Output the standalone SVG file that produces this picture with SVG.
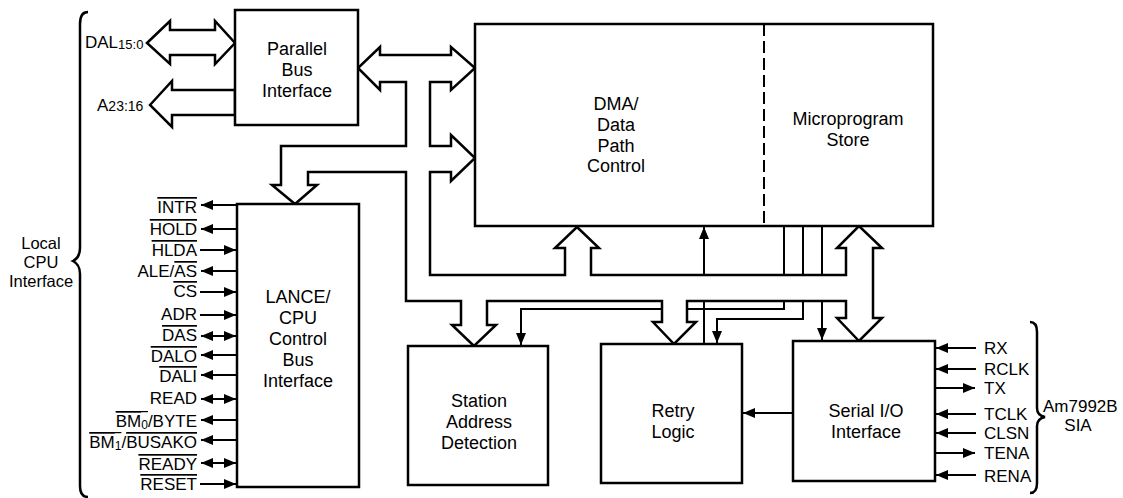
<svg xmlns="http://www.w3.org/2000/svg" width="1123" height="498" viewBox="0 0 1123 498">
<style>
.box{fill:#fff;stroke:#000;stroke-width:2.5}
.bus{fill:#fff;stroke:#000;stroke-width:2.5;stroke-linejoin:miter}
.thin{fill:none;stroke:#000;stroke-width:2}
.lbl{font-family:"Liberation Sans",Arial,sans-serif;font-size:18px;fill:#000;text-anchor:middle}
.sig{font-family:"Liberation Sans",Arial,sans-serif;font-size:17px;fill:#000}
.ol{text-decoration:overline}
.olx{stroke:#000;stroke-width:1.25}
.brace{fill:none;stroke:#000;stroke-width:2.5}
</style>
<defs>
<marker id="ah" viewBox="0 0 12 10" refX="12" refY="5" markerWidth="12" markerHeight="10" markerUnits="userSpaceOnUse" orient="auto-start-reverse"><path d="M0,0 L12,5 L0,10 Z" fill="#000"/></marker>
</defs>
<g id="connectors">
  <polygon class="bus" points="147,43 170,21 170,30 215,30 215,21 235,43 215,64 215,55 170,55 170,64"/>
  <polygon class="bus" points="150,105 172,81 172,90 235,90 235,115 172,115 172,127"/>
  <path class="thin" d="M704,344 V227" marker-end="url(#ah)"/>
  <path class="thin" d="M784,226 V309 H521 V345" marker-end="url(#ah)"/>
  <path class="thin" d="M803,226 V319 H717 V343" marker-end="url(#ah)"/>
  <path class="thin" d="M822,226 V340" marker-end="url(#ah)"/>
  <path class="thin" d="M793,413 H743" marker-end="url(#ah)"/>
  <polygon class="bus" points="380,55 380,47 358,68 380,90 380,82 406,82 406,146 281,146 281,185 272,185 295,204 317,185 308,185 308,172 406,172 406,301 461,301 461,325 452,325 474,346 496,325 487,325 487,301 662,301 662,322 653,322 674,344 696,322 687,322 687,301 846,301 846,318 837,318 859,341 882,318 873,318 873,248 882,248 859,226 837,248 846,248 846,275 591,275 591,248 599,248 577,227 555,248 565,248 565,275 430,275 430,172 451,172 451,181 475,158 451,135 451,146 430,146 430,82 451,82 451,90 475,68 451,47 451,55"/>
  <path class="thin" d="M237,205 H201" marker-end="url(#ah)"/>
  <path class="thin" d="M237,229 H201" marker-end="url(#ah)"/>
  <path class="thin" d="M200,250 H236" marker-end="url(#ah)"/>
  <path class="thin" d="M237,271 H201" marker-end="url(#ah)"/>
  <path class="thin" d="M200,292 H236" marker-end="url(#ah)"/>
  <path class="thin" d="M200,315 H236" marker-end="url(#ah)"/>
  <path class="thin" d="M201,336 H236" marker-start="url(#ah)" marker-end="url(#ah)"/>
  <path class="thin" d="M237,355 H201" marker-end="url(#ah)"/>
  <path class="thin" d="M237,375 H201" marker-end="url(#ah)"/>
  <path class="thin" d="M201,399 H236" marker-start="url(#ah)" marker-end="url(#ah)"/>
  <path class="thin" d="M237,420 H201" marker-end="url(#ah)"/>
  <path class="thin" d="M237,440 H201" marker-end="url(#ah)"/>
  <path class="thin" d="M201,463 H236" marker-start="url(#ah)" marker-end="url(#ah)"/>
  <path class="thin" d="M200,484 H236" marker-end="url(#ah)"/>
  <path class="thin" d="M976,348 H936" marker-end="url(#ah)"/>
  <path class="thin" d="M976,369 H936" marker-end="url(#ah)"/>
  <path class="thin" d="M935,388 H975" marker-end="url(#ah)"/>
  <path class="thin" d="M976,414 H936" marker-end="url(#ah)"/>
  <path class="thin" d="M976,433 H936" marker-end="url(#ah)"/>
  <path class="thin" d="M935,453 H975" marker-end="url(#ah)"/>
  <path class="thin" d="M976,475 H936" marker-end="url(#ah)"/>
</g>
<g id="parallel-bus-interface">
  <rect class="box" x="235" y="10" width="123" height="115"/>
  <text class="lbl" x="297" y="55">Parallel</text>
  <text class="lbl" x="297" y="76">Bus</text>
  <text class="lbl" x="297" y="97">Interface</text>
</g>
<g id="dma-microprogram">
  <rect class="box" x="475" y="24" width="458" height="202"/>
  <line x1="764" y1="24" x2="764" y2="226" stroke="#000" stroke-width="2" stroke-dasharray="12,5"/>
  <text class="lbl" x="616" y="110">DMA/</text>
  <text class="lbl" x="616" y="131">Data</text>
  <text class="lbl" x="616" y="152">Path</text>
  <text class="lbl" x="616" y="172">Control</text>
  <text class="lbl" x="848" y="125">Microprogram</text>
  <text class="lbl" x="848" y="146">Store</text>
</g>
<g id="lance-cpu-control">
  <rect class="box" x="237" y="204" width="122" height="283"/>
  <text class="lbl" x="298" y="303">LANCE/</text>
  <text class="lbl" x="298" y="324">CPU</text>
  <text class="lbl" x="298" y="345">Control</text>
  <text class="lbl" x="298" y="366">Bus</text>
  <text class="lbl" x="298" y="387">Interface</text>
</g>
<g id="station-address-detection">
  <rect class="box" x="408" y="346" width="140" height="139"/>
  <text class="lbl" x="479" y="407">Station</text>
  <text class="lbl" x="479" y="428">Address</text>
  <text class="lbl" x="479" y="449">Detection</text>
</g>
<g id="retry-logic">
  <rect class="box" x="601" y="344" width="141" height="139"/>
  <text class="lbl" x="673" y="417">Retry</text>
  <text class="lbl" x="673" y="438">Logic</text>
</g>
<g id="serial-io-interface">
  <rect class="box" x="793" y="341" width="142" height="140"/>
  <text class="lbl" x="866" y="417">Serial I/O</text>
  <text class="lbl" x="866" y="438">Interface</text>
</g>
<g id="local-cpu-interface">
  <path class="brace" d="M88,12 C83,12 80,16 80,24 L80,248 C80,255 77,259 73,261 C77,263 80,267 80,274 L80,486 C80,493 83,497 88,497"/>
  <text class="lbl" x="41" y="249" style="font-size:16.5px">Local</text>
  <text class="lbl" x="41" y="268" style="font-size:16.5px">CPU</text>
  <text class="lbl" x="41" y="287" style="font-size:16.5px">Interface</text>
  <text class="sig" x="85" y="48">DAL<tspan font-size="13" dy="1">15:0</tspan></text>
  <text class="sig" x="97" y="111">A<tspan font-size="14">23:16</tspan></text>
  <text class="sig" x="197" y="213" text-anchor="end"><tspan class="ol">INTR</tspan></text>
  <text class="sig" x="197" y="235" text-anchor="end"><tspan class="ol">HOLD</tspan></text>
  <text class="sig" x="197" y="256" text-anchor="end"><tspan class="ol">HLDA</tspan></text>
  <text class="sig" x="197" y="277" text-anchor="end">ALE/<tspan class="ol">AS</tspan></text>
  <text class="sig" x="197" y="297" text-anchor="end"><tspan class="ol">CS</tspan></text>
  <text class="sig" x="197" y="320" text-anchor="end">ADR</text>
  <text class="sig" x="197" y="341" text-anchor="end"><tspan class="ol">DAS</tspan></text>
  <text class="sig" x="197" y="362" text-anchor="end"><tspan class="ol">DALO</tspan></text>
  <text class="sig" x="197" y="382" text-anchor="end"><tspan class="ol">DALI</tspan></text>
  <text class="sig" x="197" y="404" text-anchor="end">READ</text>
  <text class="sig" x="197" y="427" text-anchor="end"><tspan class="ol">BM</tspan><tspan font-size="12" dy="2">0</tspan><tspan dy="-2">/BYTE</tspan></text>
  <line class="olx" x1="140.5" y1="411.6" x2="148" y2="411.6"/>
  <text class="sig" x="197" y="448" text-anchor="end"><tspan class="ol">BM</tspan><tspan font-size="12" dy="2">1</tspan><tspan dy="-2">/</tspan><tspan class="ol">BUSAKO</tspan></text>
  <line class="olx" x1="114" y1="432.6" x2="121.4" y2="432.6"/>
  <text class="sig" x="197" y="470" text-anchor="end"><tspan class="ol">READY</tspan></text>
  <text class="sig" x="197" y="490" text-anchor="end"><tspan class="ol">RESET</tspan></text>
</g>
<g id="am7992b-sia">
  <path class="brace" d="M1030,322 C1035,322 1037,326 1037,332 L1037,408 C1037,413 1040,416 1045,417 C1040,418 1037,421 1037,426 L1037,483 C1037,489 1035,493 1030,493"/>
  <text class="sig" x="984" y="354">RX</text>
  <text class="sig" x="984" y="375">RCLK</text>
  <text class="sig" x="984" y="394">TX</text>
  <text class="sig" x="984" y="420">TCLK</text>
  <text class="sig" x="984" y="439">CLSN</text>
  <text class="sig" x="984" y="459">TENA</text>
  <text class="sig" x="984" y="482">RENA</text>
  <text class="sig" x="1043" y="412">Am7992B</text>
  <text class="sig" x="1078" y="431" text-anchor="middle">SIA</text>
</g>
</svg>
